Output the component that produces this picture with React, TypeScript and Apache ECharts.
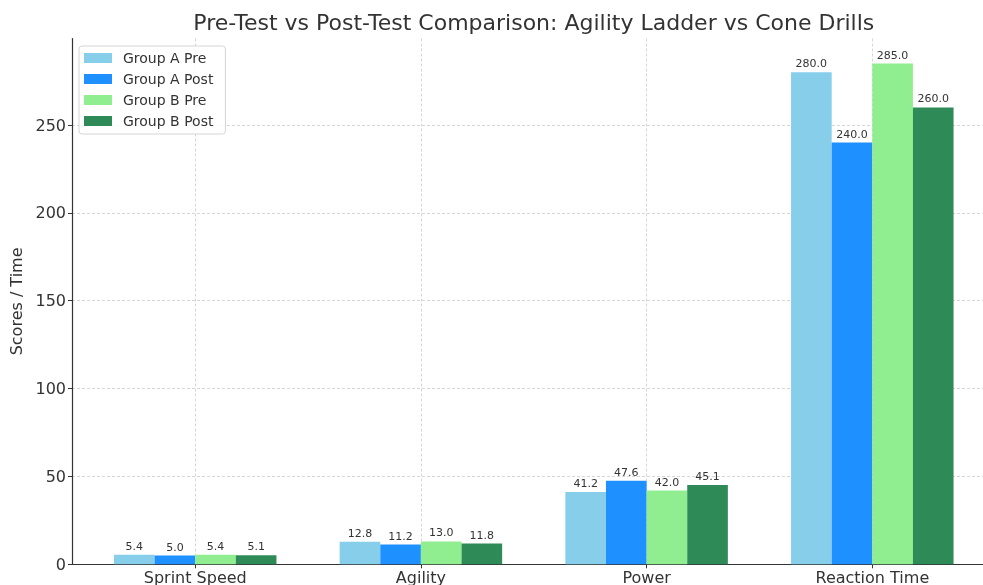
import React, { useEffect, useRef } from 'react';
import * as echarts from 'echarts';

const titleText = 'Pre-Test vs Post-Test Comparison: Agility Ladder vs Cone Drills';
const yAxisName = 'Scores / Time';
const categories = ['Sprint Speed', 'Agility', 'Power', 'Reaction Time'];
const seriesNames = ['Group A Pre', 'Group A Post', 'Group B Pre', 'Group B Post'];
const groupAPre = [5.4, 12.8, 41.2, 280.0];
const groupAPost = [5.0, 11.2, 47.6, 240.0];
const groupBPre = [5.4, 13.0, 42.0, 285.0];
const groupBPost = [5.1, 11.8, 45.1, 260.0];
const yTicks = [0, 50, 100, 150, 200, 250];
const categoryPositions = [0, 1, 2, 3];
const yMax = 299.25;
const xMin = -0.546;
const xMax = 3.546;

const palette = ['#87CEEB', '#1E90FF', '#90EE90', '#2E8B57'];
const FONT = '"DejaVu Sans", sans-serif';
const TEXT = '#333333';
const gridLine = { show: true, lineStyle: { color: '#cccccc', type: [3, 2], width: 0.8 } };

export default function App() {
  const ref = useRef<HTMLDivElement>(null);
  useEffect(() => {
    if (!ref.current) return;
    const chart = echarts.init(ref.current, null, { renderer: 'svg' });
    const seriesData = [groupAPre, groupAPost, groupBPre, groupBPost];
    const option = {
      animation: false,
      textStyle: { fontFamily: FONT },
      graphic: [
        {
          type: 'text',
          x: 533.8,
          y: 22,
          style: {
            text: titleText,
            font: `22px ${FONT}`,
            fill: TEXT,
            textAlign: 'center',
            textVerticalAlign: 'middle',
          },
        },
      ],
      legend: {
        data: seriesNames,
        orient: 'vertical',
        left: 79,
        top: 46,
        itemWidth: 28,
        itemHeight: 10,
        itemGap: 7,
        icon: 'rect',
        padding: [5, 12, 6, 5],
        borderColor: '#d5d5d5',
        borderWidth: 1,
        borderRadius: 3,
        backgroundColor: 'rgba(255,255,255,0.85)',
        textStyle: { fontSize: 14, color: TEXT, fontFamily: FONT, padding: [0, 0, 0, 6], lineHeight: 14 },
      },
      grid: [
        { left: 72, top: 38.5, width: 923.6, height: 525.8, outerBoundsMode: 'none', containLabel: false },
        { left: 82.35, top: 38.5, width: 902.8, height: 525.8, outerBoundsMode: 'none', containLabel: false },
      ],
      xAxis: [
        {
          type: 'value',
          gridIndex: 0,
          min: xMin,
          max: xMax,
          axisLine: { show: true, onZero: false, lineStyle: { color: TEXT, width: 1.2 } },
          axisTick: { show: true, customValues: categoryPositions, length: 4, lineStyle: { color: TEXT } },
          axisLabel: {
            customValues: categoryPositions,
            formatter: (v: number) => categories[Math.round(v)],
            fontSize: 16,
            color: TEXT,
            fontFamily: FONT,
            margin: 5,
          },
          splitLine: gridLine,
        },
        { type: 'category', gridIndex: 1, data: categories, show: false },
      ],
      yAxis: [
        {
          type: 'value',
          gridIndex: 0,
          min: 0,
          max: yMax,
          axisLine: { show: true, onZero: false, lineStyle: { color: TEXT, width: 1.2 } },
          axisTick: { show: true, customValues: yTicks, length: 4, lineStyle: { color: TEXT } },
          axisLabel: { customValues: yTicks, fontSize: 16, color: TEXT, fontFamily: FONT, margin: 6 },
          splitLine: gridLine,
          name: yAxisName,
          nameLocation: 'middle',
          nameGap: 46,
          nameTextStyle: { fontSize: 16, color: TEXT, fontFamily: FONT },
        },
        { type: 'value', gridIndex: 1, min: 0, max: yMax, show: false },
      ],
      series: seriesNames.map((name, i) => ({
        name,
        type: 'bar',
        xAxisIndex: 1,
        yAxisIndex: 1,
        data: seriesData[i],
        barWidth: '18%',
        barGap: '0%',
        itemStyle: { color: palette[i] },
        label: {
          show: true,
          position: 'top',
          distance: 3,
          formatter: (p: any) => Number(p.value).toFixed(1),
          fontSize: 11,
          color: TEXT,
          fontFamily: FONT,
        },
      })),
    };
    chart.setOption(option as any);
    return () => chart.dispose();
  }, []);
  return <div ref={ref} style={{ position: 'fixed', left: 0, top: 0, width: 983, height: 585 }} />;
}
